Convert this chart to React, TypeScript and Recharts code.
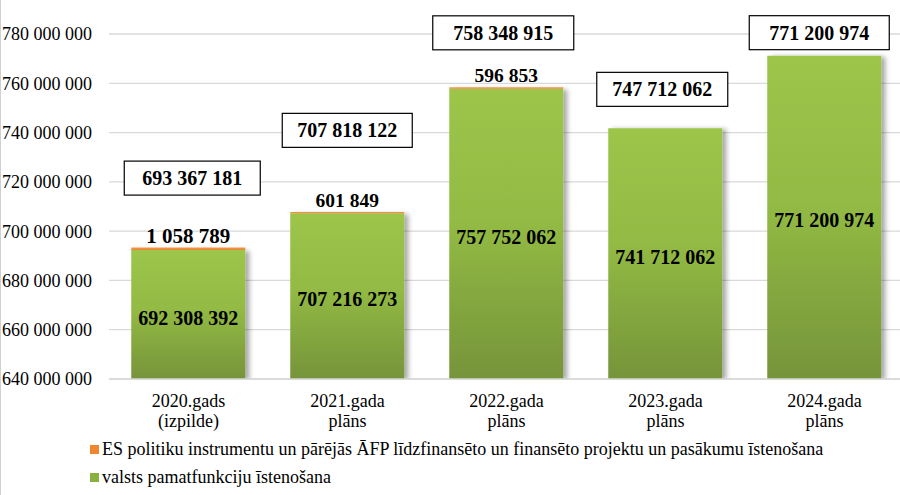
import { BarChart, Bar, XAxis, YAxis, CartesianGrid, Legend, LabelList } from "recharts";

const categories = ["2020.gads\n(izpilde)", "2021.gada\nplāns", "2022.gada\nplāns", "2023.gada\nplāns", "2024.gada\nplāns"];
const valstsValues = [692308392, 707216273, 757752062, 741712062, 771200974];
const esValues = [1058789, 601849, 596853, 0, 0];
const totalLabels = ["693 367 181", "707 818 122", "758 348 915", "747 712 062", "771 200 974"];
const yTicks = [640000000, 660000000, 680000000, 700000000, 720000000, 740000000, 760000000, 780000000];

const ES_NAME = "ES politiku instrumentu un pārējās ĀFP līdzfinansēto un finansēto projektu un pasākumu īstenošana";
const VALSTS_NAME = "valsts pamatfunkciju īstenošana";

// total boxes are hand placed in the original: centre offset from the green bar top, px
const boxLift = [72, 83, 56, 39, 23];
const boxShift = [4, 0, -3, -3, -5];
const boxWidth = [136, 130, 141, 131, 140];

const data = categories.map((name, i) => ({
  name,
  valsts: valstsValues[i],
  es: esValues[i],
  total: totalLabels[i],
}));

const FONT = "Liberation Serif, Times New Roman, serif";
const fmt = (n: number) => String(n).replace(/\B(?=(\d{3})+(?!\d))/g, " ");

const CatTick = (props: any) => {
  const { x, y, payload } = props;
  const lines = String(payload.value).split("\n");
  return (
    <text x={x} y={y} textAnchor="middle" style={{ fontSize: 18, fontFamily: FONT }} fill="#000">
      {lines.map((l, i) => (
        <tspan key={i} x={x} dy={20}>{l}</tspan>
      ))}
    </text>
  );
};

const EsLabel = (props: any) => {
  const { x, y, width, value, index } = props;
  if (!value) return null;
  return (
    <text x={x + width / 2} y={y - 12} dy="0.35em" textAnchor="middle" fill="#000"
      style={{ fontFamily: FONT, fontWeight: "bold", fontSize: index === 0 ? 21 : 19.5 }}>
      {fmt(value)}
    </text>
  );
};

const TotalBox = (props: any) => {
  const { x, y, width, value, index } = props;
  const cx = x + width / 2 + boxShift[index];
  const cy = y - boxLift[index];
  const w = boxWidth[index];
  return (
    <g>
      <rect x={cx - w / 2} y={cy - 17} width={w} height={34} fill="#fff" stroke="#000" strokeWidth={1.2} />
      <text x={cx} y={cy} dy="0.35em" textAnchor="middle" fill="#000"
        style={{ fontFamily: FONT, fontWeight: "bold", fontSize: 20 }}>
        {value}
      </text>
    </g>
  );
};

const legendItems = [
  { name: ES_NAME, color: "#F0862F" },
  { name: VALSTS_NAME, color: "#8AB13F" },
];

const renderLegend = () => (
  <div style={{ fontFamily: FONT, fontSize: 18, color: "#000" }}>
    {legendItems.map((it) => (
      <div key={it.name} style={{ display: "flex", alignItems: "center", height: 28 }}>
        <span style={{ display: "inline-block", width: 9, height: 9, background: it.color, marginRight: 3 }} />
        <span>{it.name}</span>
      </div>
    ))}
  </div>
);

export default function App() {
  return (
    <div style={{ position: "absolute", left: 0, top: 0, width: 900, height: 495, background: "#fff", fontFamily: FONT }}>
      <div style={{ position: "absolute", left: 0, top: 0, width: 1, height: 495, background: "#D0D0D0" }} />
      <BarChart width={900} height={495} data={data} margin={{ top: 34, right: -4, left: 0, bottom: 0 }} barCategoryGap="14%">
        <defs>
          <linearGradient id="gGreen" x1="0" y1="0" x2="0" y2="1">
            <stop offset="0%" stopColor="#9CC54A" />
            <stop offset="45%" stopColor="#93BB44" />
            <stop offset="100%" stopColor="#76943A" />
          </linearGradient>
          <linearGradient id="gOrange" x1="0" y1="0" x2="0" y2="1">
            <stop offset="0%" stopColor="#F59A4E" />
            <stop offset="100%" stopColor="#E9822F" />
          </linearGradient>
          <filter id="shadow" x="-10%" y="-10%" width="130%" height="120%">
            <feDropShadow dx={4} dy={1} stdDeviation={2.5} floodColor="#000" floodOpacity={0.35} />
          </filter>
        </defs>
        <CartesianGrid vertical={false} stroke="#D9D9D9" strokeWidth={1.3} />
        <XAxis dataKey="name" interval={0} height={116} tickLine={false} axisLine={{ stroke: "#D9D9D9", strokeWidth: 1.3 }} tick={<CatTick />} />
        <YAxis type="number" domain={[640000000, 780000000]} allowDataOverflow ticks={yTicks} width={109} axisLine={false} tickLine={false}
          tickMargin={11} tickFormatter={fmt} tick={{ fontSize: 18, fontFamily: FONT, fill: "#000" }} />
        <Legend layout="vertical" verticalAlign="middle" align="center" content={renderLegend}
          wrapperStyle={{ position: "absolute", left: 90, top: 435, width: 800 }} />
        <Bar dataKey="valsts" name={VALSTS_NAME} stackId="a" fill="url(#gGreen)" filter="url(#shadow)" isAnimationActive={false}>
          <LabelList dataKey="valsts" position="center" formatter={(v: any) => fmt(v)} fill="#000"
            style={{ fontFamily: FONT, fontWeight: "bold", fontSize: 20 }} dy={3} />
          <LabelList dataKey="total" content={TotalBox} />
        </Bar>
        <Bar dataKey="es" name={ES_NAME} stackId="a" fill="url(#gOrange)" isAnimationActive={false}>
          <LabelList dataKey="es" content={EsLabel} />
        </Bar>
      </BarChart>
    </div>
  );
}
